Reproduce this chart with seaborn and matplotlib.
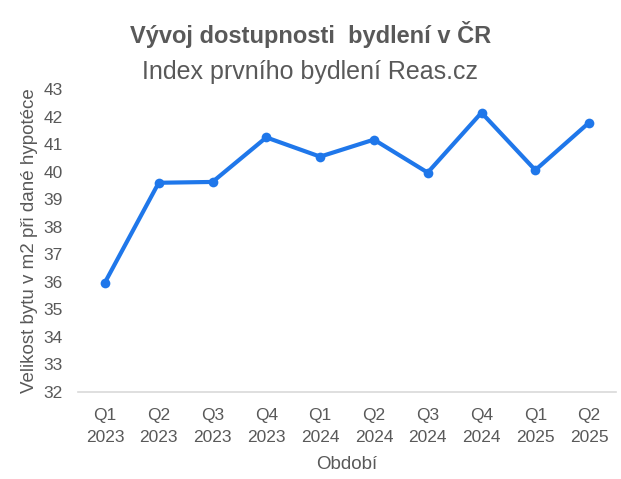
import matplotlib
matplotlib.use("Agg")
import matplotlib.pyplot as plt
import seaborn as sns
import pandas as pd

periods = ["Q1\n2023", "Q2\n2023", "Q3\n2023", "Q4\n2023", "Q1\n2024",
           "Q2\n2024", "Q3\n2024", "Q4\n2024", "Q1\n2025", "Q2\n2025"]
values = [35.97, 39.60, 39.63, 41.25, 40.55, 41.17, 39.97, 42.15, 40.06, 41.79]
yticks = list(range(32, 44))

title = "Vývoj dostupnosti  bydlení v ČR"
subtitle = "Index prvního bydlení Reas.cz"
xlabel = "Období"
ylabel = "Velikost bytu v m2 při dané hypotéce"

sns.set_theme(style="white")
plt.rcParams['font.family'] = ['Liberation Sans', 'DejaVu Sans']

gray = "#595959"
blue = "#1F77EA"

df = pd.DataFrame({"period": periods, "value": values})

fig = plt.figure(figsize=(6.21, 4.79), dpi=100)
ax = fig.add_axes([78/621, 1-391.7/479, (616-78)/621, (391.7-89.3)/479])

sns.lineplot(data=df, x="period", y="value", ax=ax, sort=False,
             color=blue, linewidth=3, marker="o", markersize=7,
             markeredgewidth=0, markerfacecolor=blue)

ax.set_xlim(-0.5, len(periods) - 0.5)
ax.set_ylim(32, 43)
ax.set_yticks(yticks)
ax.set_yticklabels([str(t) for t in yticks])
ax.tick_params(axis="both", length=0, labelsize=12.5, labelcolor=gray)
ax.tick_params(axis="y", pad=11)
ax.tick_params(axis="x", pad=12)
for lab in ax.get_xticklabels():
    lab.set_linespacing(1.58)

for s in ["top", "right", "left"]:
    ax.spines[s].set_visible(False)
ax.spines["bottom"].set_color("#D9D9D9")
ax.spines["bottom"].set_linewidth(1.2)
ax.grid(False)

ax.set_xlabel(xlabel, fontsize=13.5, color=gray, labelpad=7.5)
ax.set_ylabel(ylabel, fontsize=13.5, color=gray, labelpad=4)

fig.text(0.5, 1-35/479, title, ha="center", va="center", fontsize=17,
         fontweight="bold", color=gray)
fig.text(0.5, 1-72/479, subtitle, ha="center", va="center", fontsize=18,
         color=gray)

fig.savefig("out.png", dpi=100)
